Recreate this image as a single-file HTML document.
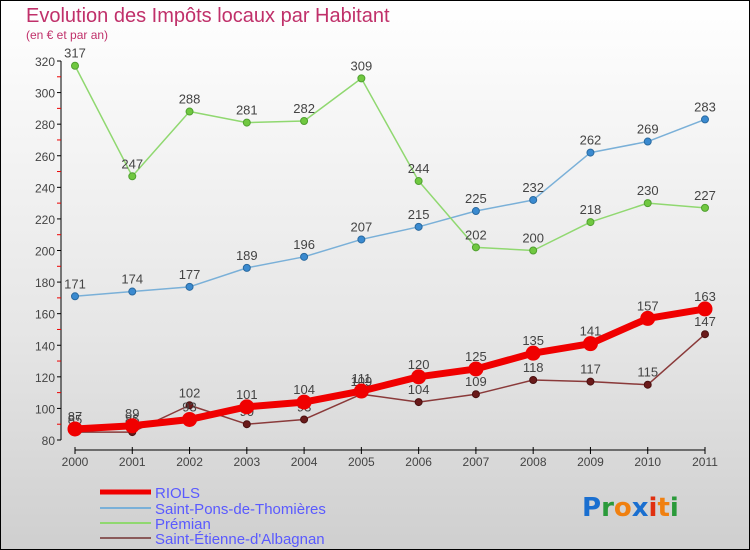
<!DOCTYPE html>
<html><head><meta charset="utf-8"><style>
body{margin:0}
#c{width:750px;height:550px;position:relative;overflow:hidden;background:linear-gradient(#ffffff 0%,#e6e6e6 60%,#cfcfcf 100%);font-family:"Liberation Sans",sans-serif}
</style></head><body>
<div id="c">
<svg id="s" width="750" height="550" xmlns="http://www.w3.org/2000/svg">
<rect x="0.5" y="0.5" width="749" height="549" fill="none" stroke="#000"/>
<text x="26" y="22" font-size="20" fill="#c0306a">Evolution des Impôts locaux par Habitant</text>
<text x="26" y="39" font-size="12" fill="#c0306a">(en € et par an)</text>
<g id="axes"></g>
<g id="series"></g>
<g id="legend"></g>
<text x="582" y="516" font-size="26" font-weight="bold" font-family="'DejaVu Sans',sans-serif"><tspan fill="#1a6fd0">P</tspan><tspan fill="#2a9a3a">r</tspan><tspan fill="#f08010">o</tspan><tspan fill="#1a6fd0">x</tspan><tspan fill="#e03010">i</tspan><tspan fill="#f08010">t</tspan><tspan fill="#2a9a3a">i</tspan></text>
</svg>
</div>
<script>
const years=["2000","2001","2002","2003","2004","2005","2006","2007","2008","2009","2010","2011"];
const riols=[87,89,93,101,104,111,120,125,135,141,157,163];
const stpons=[171,174,177,189,196,207,215,225,232,262,269,283];
const premian=[317,247,288,281,282,309,244,202,200,218,230,227];
const stetienne=[85,85,102,90,93,109,104,109,118,117,115,147];
const yTicks=[80,100,120,140,160,180,200,220,240,260,280,300,320];
const NS="http://www.w3.org/2000/svg";
const X=i=>75+i*(630/11);
const Y=v=>440-(v-80)*(379/240);
function mk(tag,attrs,parent){const e=document.createElementNS(NS,tag);for(const k in attrs)e.setAttribute(k,attrs[k]);parent.appendChild(e);return e;}
const ax=document.getElementById('axes');
let yl=mk('line',{x1:61,y1:Y(320),x2:61,y2:Y(80),stroke:'#000'},ax);


yTicks.forEach(v=>{
 mk('line',{x1:57,x2:61,y1:Y(v),y2:Y(v),stroke:'#000'},ax);
 if(v<320)mk('line',{x1:57,x2:61,y1:Y(v+10),y2:Y(v+10),stroke:'#e00'},ax);
 const t=mk('text',{x:55,y:Y(v)+5,'text-anchor':'end','font-size':12,fill:'#444'},ax);t.textContent=v;
 
 
});
let xl=mk('line',{x1:X(0),x2:X(11),y1:450,y2:450,stroke:'#000'},ax);


years.forEach((y,i)=>{
 mk('line',{x1:X(i),x2:X(i),y1:447,y2:454,stroke:'#000'},ax);
 const t=mk('text',{x:X(i),y:466,'text-anchor':'middle','font-size':12,fill:'#444'},ax);t.textContent=y;
 
 
});
const sg=document.getElementById('series');
function series(name,data,color,w,r,dot,dotStroke){
 const g=mk('g',{},sg);
 
 
 mk('polyline',{points:data.map((v,i)=>X(i)+','+Y(v)).join(' '),fill:'none',stroke:color,'stroke-width':w,'stroke-linejoin':'round'},g);
 data.forEach((v,i)=>{
  const c=mk('circle',{cx:X(i),cy:Y(v),r:r,fill:dot,stroke:dotStroke,'stroke-width':1},g);
  
  
  const t=mk('text',{x:X(i),y:Y(v)-8,'text-anchor':'middle','font-size':13,fill:'#444'},g);t.textContent=v;
  
  
 });
}
series('saint-pons',stpons,'#7ab0d8',1.5,3.5,'#3a8ad0','#2a6aa0');
series('premian',premian,'#90d870',1.5,3.5,'#70c840','#50a030');
series('saint-etienne',stetienne,'#8a3a3a',1.5,3.5,'#6a1a1a','#4a1010');
series('riols',riols,'#f00000',7,7,'#f00000','#f00000');
const lg=document.getElementById('legend');
const items=[['RIOLS','#f00000',5,492],['Saint-Pons-de-Thomières','#7ab0d8',2,508],['Prémian','#90d870',2,523],['Saint-Étienne-d\'Albagnan','#8a5a5a',2,538]];
items.forEach(([n,c,w,y])=>{
 const g=mk('g',{},lg);
 
 
 mk('line',{x1:100,x2:151,y1:y,y2:y,stroke:c,'stroke-width':w},g);
 const t=mk('text',{x:155,y:y+6,'font-size':15,fill:'#5a5aff'},g);t.textContent=n;
});
</script>
</body></html>
